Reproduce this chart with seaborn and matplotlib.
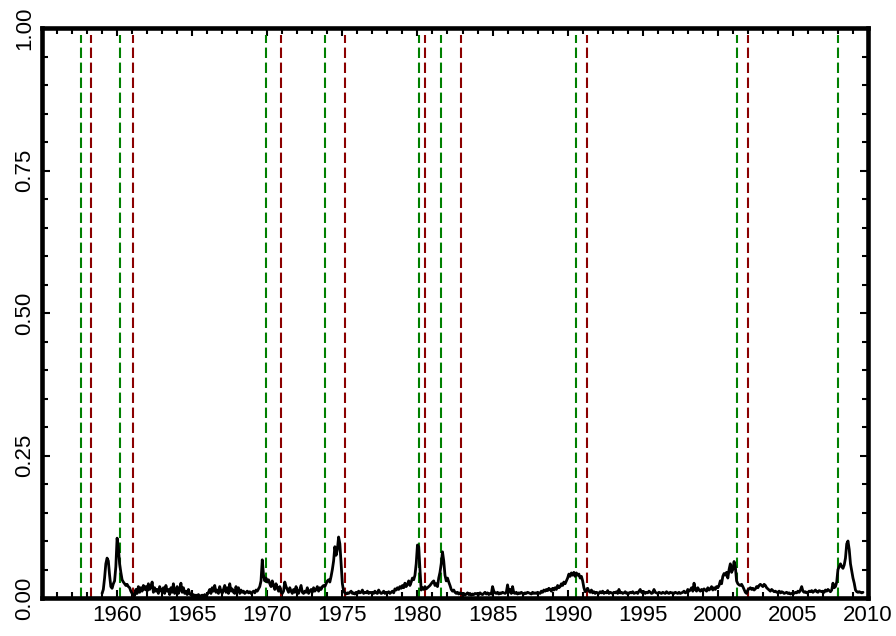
import numpy as np
import pandas as pd
import matplotlib
matplotlib.use("Agg")
import matplotlib.pyplot as plt
import seaborn as sns
from matplotlib.ticker import MultipleLocator, FixedLocator, FixedFormatter

# Monthly probability values (in thousandths), one list per year, starting Jan 1959
start_year = 1959
y1959 = [8, 15, 35, 60, 70, 65, 40, 20, 17, 25, 30, 55]
y1960 = [105, 90, 60, 45, 32, 28, 25, 22, 24, 20, 18, 12]
y1961 = [8, 5, 4, 15, 8, 20, 10, 18, 12, 22, 15, 20]
y1962 = [12, 25, 15, 20, 28, 10, 18, 12, 15, 8, 20, 14]
y1963 = [10, 18, 8, 22, 12, 15, 6, 18, 10, 25, 8, 12]
y1964 = [20, 8, 15, 26, 10, 18, 8, 12, 6, 15, 8, 5]
y1965 = [4, 6, 3, 5, 4, 6, 3, 4, 5, 3, 6, 4]
y1966 = [6, 10, 15, 8, 18, 12, 22, 10, 14, 8, 20, 12]
y1967 = [8, 15, 22, 10, 18, 8, 25, 12, 16, 10, 8, 20]
y1968 = [12, 18, 8, 14, 10, 12, 8, 10, 12, 9, 11, 8]
y1969 = [10, 12, 9, 14, 12, 16, 20, 30, 67, 40, 30, 35]
y1970 = [28, 32, 25, 20, 30, 22, 15, 25, 18, 12, 20, 10]
y1971 = [8, 12, 28, 20, 15, 10, 18, 12, 8, 15, 10, 20]
y1972 = [12, 8, 15, 22, 10, 8, 12, 10, 18, 8, 12, 15]
y1973 = [10, 18, 12, 15, 20, 12, 18, 15, 20, 22, 20, 25]
y1974 = [30, 32, 28, 38, 50, 65, 90, 75, 85, 107, 95, 60]
y1975 = [25, 12, 9, 7, 9, 8, 10, 12, 8, 9, 7, 10]
y1976 = [8, 12, 9, 10, 14, 8, 10, 9, 12, 8, 10, 9]
y1977 = [10, 8, 12, 9, 8, 14, 10, 8, 9, 12, 8, 10]
y1978 = [9, 11, 8, 10, 12, 9, 16, 14, 18, 15, 20, 17]
y1979 = [22, 18, 26, 20, 24, 30, 22, 28, 35, 32, 40, 60]
y1980 = [93, 90, 50, 14, 18, 15, 20, 16, 18, 20, 22, 25]
y1981 = [28, 30, 22, 25, 20, 35, 45, 60, 81, 65, 40, 30]
y1982 = [35, 28, 22, 15, 12, 14, 10, 8, 10, 7, 9, 8]
y1983 = [6, 8, 5, 7, 9, 6, 8, 5, 7, 6, 8, 7]
y1984 = [8, 6, 9, 7, 6, 8, 10, 7, 9, 6, 8, 7]
y1985 = [20, 12, 9, 8, 10, 7, 9, 8, 10, 9, 8, 10]
y1986 = [23, 10, 15, 8, 20, 9, 8, 10, 7, 9, 8, 10]
y1987 = [8, 7, 9, 8, 10, 9, 8, 7, 10, 8, 9, 8]
y1988 = [10, 9, 8, 12, 10, 14, 12, 15, 13, 17, 15, 12]
y1989 = [17, 14, 18, 15, 22, 18, 20, 25, 22, 28, 25, 30]
y1990 = [35, 42, 38, 44, 40, 45, 38, 44, 40, 42, 35, 38]
y1991 = [30, 18, 11, 14, 17, 12, 10, 14, 9, 11, 8, 10]
y1992 = [9, 8, 11, 9, 12, 8, 10, 9, 13, 8, 10, 9]
y1993 = [8, 10, 9, 11, 8, 15, 9, 10, 8, 9, 11, 8]
y1994 = [9, 8, 10, 9, 11, 8, 9, 10, 8, 12, 15, 10]
y1995 = [9, 11, 8, 10, 9, 12, 10, 8, 9, 15, 10, 9]
y1996 = [8, 10, 9, 8, 10, 9, 8, 11, 9, 8, 10, 9]
y1997 = [9, 8, 10, 9, 8, 10, 8, 9, 10, 12, 9, 10]
y1998 = [15, 12, 14, 18, 12, 26, 15, 12, 18, 14, 12, 15]
y1999 = [12, 16, 14, 12, 18, 14, 16, 20, 14, 18, 15, 20]
y2000 = [18, 22, 30, 25, 38, 43, 40, 45, 35, 50, 60, 45]
y2001 = [50, 64, 55, 30, 25, 23, 22, 24, 20, 15, 10, 8]
y2002 = [14, 16, 18, 15, 17, 14, 16, 20, 18, 22, 24, 22]
y2003 = [20, 24, 22, 18, 16, 14, 12, 15, 13, 11, 12, 10]
y2004 = [10, 12, 9, 11, 10, 8, 9, 10, 8, 9, 7, 8]
y2005 = [9, 8, 10, 9, 12, 10, 14, 20, 12, 10, 11, 9]
y2006 = [10, 12, 11, 13, 10, 12, 14, 11, 10, 13, 12, 11]
y2007 = [12, 10, 14, 12, 15, 13, 11, 14, 26, 18, 20, 28]
y2008 = [50, 55, 60, 55, 52, 58, 70, 95, 100, 85, 60, 48]
y2009 = [35, 26, 14, 11, 10, 11, 10, 9, 10]

years_data = [y1959, y1960, y1961, y1962, y1963, y1964, y1965, y1966, y1967, y1968,
              y1969, y1970, y1971, y1972, y1973, y1974, y1975, y1976, y1977, y1978,
              y1979, y1980, y1981, y1982, y1983, y1984, y1985, y1986, y1987, y1988,
              y1989, y1990, y1991, y1992, y1993, y1994, y1995, y1996, y1997, y1998,
              y1999, y2000, y2001, y2002, y2003, y2004, y2005, y2006, y2007, y2008,
              y2009]

# Recession dates (peaks green, troughs red)
peaks = [1957.6, 1960.2, 1969.93, 1973.87, 1980.07, 1981.6, 1990.53, 2001.27, 2008.0]
troughs = [1958.27, 1961.07, 1970.93, 1975.2, 1980.53, 1982.93, 1991.27, 2002.0]

yticks = [0.0, 0.25, 0.50, 0.75, 1.00]
ytick_labels = ["0.00", "0.25", "0.50", "0.75", "1.00"]
xticks = [1960, 1965, 1970, 1975, 1980, 1985, 1990, 1995, 2000, 2005, 2010]
xtick_labels = [str(x) for x in xticks]

rows = []
for i, vals in enumerate(years_data):
    for m, v in enumerate(vals):
        rows.append((start_year + i + m / 12.0, v / 1000.0))
df = pd.DataFrame(rows, columns=["date", "prob"])

sns.set_style("ticks")
plt.rcParams["font.family"] = ["Liberation Sans", "DejaVu Sans"]
plt.rcParams["lines.scale_dashes"] = False

DPI = 100
fig = plt.figure(figsize=(896 / DPI, 636 / DPI), dpi=DPI)
ax = fig.add_axes([42/896, 1-598/636, (868-42)/896, (598-28)/636])

for p in peaks:
    ax.axvline(p, ymin=0, ymax=0.988, color="#008000", lw=1.5,
               linestyle=(0, (7.5, 3.3)), zorder=1)
for t in troughs:
    ax.axvline(t, ymin=0, ymax=0.988, color="#8B0000", lw=1.5,
               linestyle=(0, (7.5, 3.3)), zorder=1)

sns.lineplot(data=df, x="date", y="prob", color="black", lw=2.0, ax=ax, zorder=3)

ax.set_xlim(1955, 2010)
ax.set_ylim(0, 1)
ax.set_xlabel("")
ax.set_ylabel("")
ax.xaxis.set_major_locator(FixedLocator(xticks))
ax.xaxis.set_major_formatter(FixedFormatter(xtick_labels))
ax.xaxis.set_minor_locator(MultipleLocator(1))
ax.yaxis.set_major_locator(FixedLocator(yticks))
ax.yaxis.set_major_formatter(FixedFormatter(ytick_labels))
ax.yaxis.set_minor_locator(MultipleLocator(0.05))

for s in ax.spines.values():
    s.set_linewidth(3.3)
    s.set_color("black")
    s.set_visible(True)

ax.tick_params(which="both", direction="in", top=True, right=True, width=1.5, colors="black")
ax.tick_params(which="major", length=6, pad=5)
ax.tick_params(which="minor", length=4)
ax.tick_params(axis="x", which="major", labeltop=False)
for lab in ax.get_yticklabels():
    lab.set_rotation(90)
    lab.set_va("center")
    lab.set_fontsize(16)
for lab in ax.get_xticklabels():
    lab.set_fontsize(16)

fig.savefig("out.png", dpi=DPI)
